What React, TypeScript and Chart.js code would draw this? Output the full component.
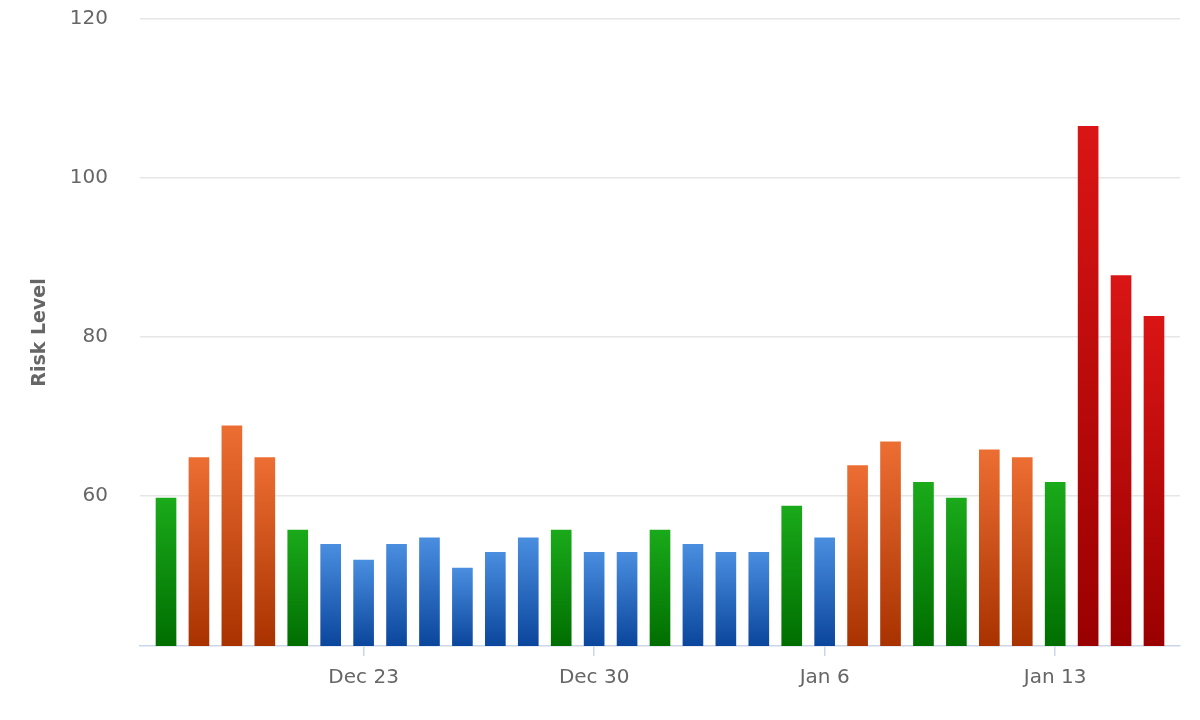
import React, { useEffect, useRef } from "react";
import { Chart, registerables } from "chart.js";

Chart.register(...registerables);

const dates = [
  "Dec 17", "Dec 18", "Dec 19", "Dec 20", "Dec 21", "Dec 22", "Dec 23", "Dec 24",
  "Dec 25", "Dec 26", "Dec 27", "Dec 28", "Dec 29", "Dec 30", "Dec 31", "Jan 1",
  "Jan 2", "Jan 3", "Jan 4", "Jan 5", "Jan 6", "Jan 7", "Jan 8", "Jan 9",
  "Jan 10", "Jan 11", "Jan 12", "Jan 13", "Jan 14", "Jan 15", "Jan 16",
];

const riskValues = [
  59.7, 64.8, 68.8, 64.8, 55.7, 53.9, 51.9, 53.9, 54.7, 50.9, 52.9, 54.7, 55.7, 52.9, 52.9, 55.7,
  53.9, 52.9, 52.9, 58.7, 54.7, 63.8, 66.8, 61.7, 59.7, 65.8, 64.8, 61.7, 106.5, 87.7, 82.6,
];

const riskLevels = [
  "green", "orange", "orange", "orange", "green", "blue", "blue", "blue",
  "blue", "blue", "blue", "blue", "green", "blue", "blue", "green",
  "blue", "blue", "blue", "green", "blue", "orange", "orange", "green",
  "green", "orange", "orange", "green", "red", "red", "red",
];

const tickDates = ["Dec 23", "Dec 30", "Jan 6", "Jan 13"];
const yTicks = [60, 80, 100, 120];

const levelColors: Record<string, [string, string]> = {
  green: ["#1aaa1a", "#006e00"],
  orange: ["#ed6e33", "#a83200"],
  blue: ["#4a8ee0", "#0a469c"],
  red: ["#da1515", "#9a0000"],
};

const Y_MIN = 41.1;
const Y_MAX = 120;

export default function App() {
  const canvasRef = useRef<HTMLCanvasElement | null>(null);

  useEffect(() => {
    const canvas = canvasRef.current;
    if (!canvas) return;
    const points = riskValues.map((v, i) => ({ x: i, y: v }));
    const tickIdx = tickDates.map((d) => dates.indexOf(d));

    const chart = new Chart(canvas, {
      type: "bar",
      data: {
        datasets: [
          {
            label: "Risk Level",
            data: points,
            barThickness: 20,
            borderWidth: 0,
            backgroundColor: (ctx: any) => {
              const i = ctx.dataIndex;
              const lvl = riskLevels[i] || "blue";
              const [c1, c2] = levelColors[lvl];
              const ch = ctx.chart;
              const area = ch.chartArea;
              const ys = ch.scales && ch.scales.y;
              if (!area || !ys || ctx.type !== "data") return c1;
              const top = ys.getPixelForValue(riskValues[i]);
              const bottom = ys.getPixelForValue(Y_MIN);
              if (!isFinite(top) || !isFinite(bottom) || bottom - top < 1) return c1;
              const g = ch.ctx.createLinearGradient(0, top, 0, bottom);
              g.addColorStop(0, c1);
              g.addColorStop(1, c2);
              return g;
            },
          },
        ],
      },
      options: {
        animation: false,
        responsive: false,
        maintainAspectRatio: false,
        layout: { padding: { top: 19, right: 20, left: 0, bottom: 0 } },
        plugins: {
          legend: { display: false },
          tooltip: { enabled: false },
        },
        scales: {
          x: {
            type: "linear",
            offset: false,
            min: -0.79,
            max: 30.79,
            afterBuildTicks: (scale: any) => {
              scale.ticks = tickIdx.map((v) => ({ value: v }));
            },
            afterFit: (scale: any) => {
              scale.height = 74;
            },
            ticks: {
              autoSkip: false,
              maxRotation: 0,
              minRotation: 0,
              padding: 10,
              color: "#666666",
              font: { family: "DejaVu Sans", size: 20 },
              callback: (v: any) => dates[Math.round(Number(v))] ?? "",
            },
            grid: {
              offset: false,
              drawOnChartArea: false,
              drawTicks: true,
              tickLength: 10,
              color: "#ccd6eb",
              lineWidth: 1.5,
            },
            border: { display: true, color: "#ccd6eb", width: 1.5 },
          },
          y: {
            type: "linear",
            min: Y_MIN,
            max: Y_MAX,
            afterBuildTicks: (scale: any) => {
              scale.ticks = yTicks.map((v) => ({ value: v }));
            },
            afterFit: (scale: any) => {
              scale.width = 140;
            },
            ticks: {
              padding: 0,
              color: "#666666",
              font: { family: "DejaVu Sans", size: 20 },
            },
            grid: {
              drawTicks: true,
              tickLength: 32,
              tickColor: "rgba(0,0,0,0)",
              color: "#e6e6e6",
              lineWidth: 1.5,
            },
            border: { display: false },
            title: {
              display: true,
              text: "Risk Level",
              color: "#666666",
              font: { family: "DejaVu Sans", size: 19, weight: "bold" },
              padding: { top: 29, bottom: 0 },
            },
          },
        },
      },
    } as any);

    return () => {
      chart.destroy();
    };
  }, []);

  return (
    <div style={{ position: "fixed", left: 0, top: 0, width: 1200, height: 720, background: "#ffffff" }}>
      <canvas ref={canvasRef} width={1200} height={720} style={{ width: 1200, height: 720, display: "block" }} />
    </div>
  );
}
